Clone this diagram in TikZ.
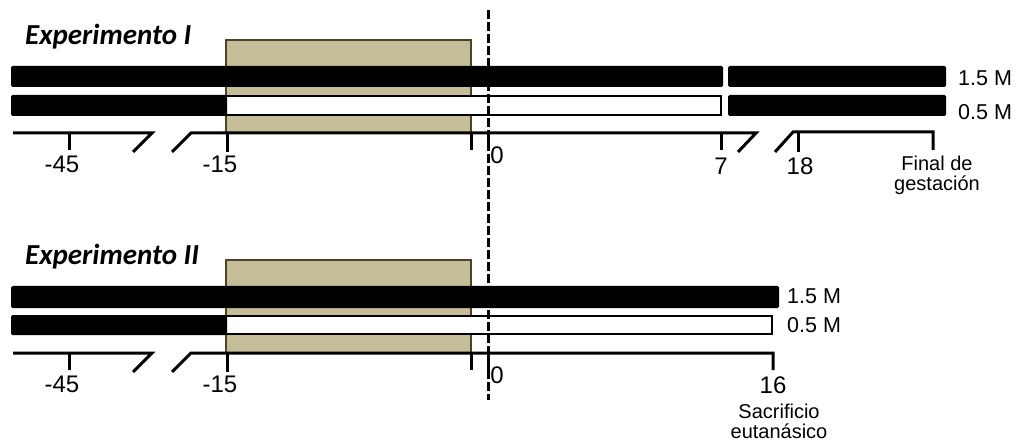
\documentclass[tikz,border=0pt]{standalone}
\usepackage{fontspec}
\setmainfont{Liberation Sans}
\newfontfamily\titlefont{Carlito}
\definecolor{tanfill}{HTML}{C4BD97}
\definecolor{tanline}{HTML}{4A452A}
\begin{document}
\begin{tikzpicture}[x=1pt,y=-1pt,
  bar/.style={fill=black, rounded corners=1.5pt},
  hollow/.style={draw=black, fill=white, line width=2.3pt},
  axisline/.style={line width=3pt},
  period/.style={draw=tanline, fill=tanfill, line width=2.2pt},
  num/.style={font=\fontsize{24}{27}\selectfont, inner sep=0pt},
  conc/.style={font=\fontsize{21.5}{25}\selectfont, inner sep=0pt, anchor=west},
  note/.style={font=\fontsize{20}{20}\selectfont, inner sep=0pt, align=center, anchor=north},
  title/.style={font=\titlefont\bfseries\itshape\fontsize{29}{32}\selectfont, inner sep=0pt, anchor=base west},
  zeroline/.style={line width=3pt, dash pattern=on 9pt off 3pt}]
\useasboundingbox (0,0) rectangle (1016,443);

% common left parts of both experiments
\foreach \dy/\k in {0/a,220/b} {
  \begin{scope}[shift={(0,\dy)}]
    \draw[period] (226,40) rectangle (471,133);
    \node[title] (title\k) at (25,45) {Experimento \ifnum\dy=0 I\else II\fi};
    % ticks and axis left part
    \draw[axisline] (13,133) -- (152,133) -- (133,152);
    \draw[axisline] (69,133) -- (69,150);
    \draw[axisline] (227,133) -- (227,152);
    \draw[axisline] (471,133) -- (471,150);
    \draw[axisline] (488,133) -- (488,150);
    \node[num] (m45\k) at (62,164) {-45};
    \node[num] (m15\k) at (220,164) {-15};
    \node[num] (z\k) at (497,155) {0};
  \end{scope}
}

% ---------------- Experimento I ----------------
\fill[bar] (11,66) rectangle (723,87);
\fill[bar] (728,66) rectangle (946,87);
\draw[hollow] (200,96.2) rectangle (720.8,114.8);
\fill[bar] (11,95) rectangle (227,116);
\fill[bar] (728,95) rectangle (946,116);
\node[conc] (c15a) at (958,78.5) {1.5 M};
\node[conc] (c05a) at (958,112) {0.5 M};
\draw[axisline] (172,152) -- (191,133) -- (756,133) -- (738,152);
\draw[axisline] (721,133) -- (721,150);
\draw[axisline] (775,152) -- (793,132) -- (933,132) -- (933,150);
\draw[axisline] (798,132) -- (798,152);
\node[num] (d7) at (721,166.5) {7};
\node[num] (d18) at (800,166.5) {18};
\node[note] (fin) at (937,156) {Final de\\gestación};

% ---------------- Experimento II ----------------
\fill[bar] (11,286) rectangle (779,308);
\draw[hollow] (200,316.2) rectangle (771.8,333.8);
\fill[bar] (11,315) rectangle (227,335);
\node[conc] (c15b) at (787,296.5) {1.5 M};
\node[conc] (c05b) at (787,325.5) {0.5 M};
\draw[axisline] (172,372) -- (191,353) -- (773,353) -- (773,370);
\node[num] (d16) at (773,385.5) {16};
\node[note] (sac) at (779,404) {Sacrificio\\eutanásico};

% day 0 line
\draw[zeroline] (488,10) -- (488,400);
\end{tikzpicture}
\end{document}
